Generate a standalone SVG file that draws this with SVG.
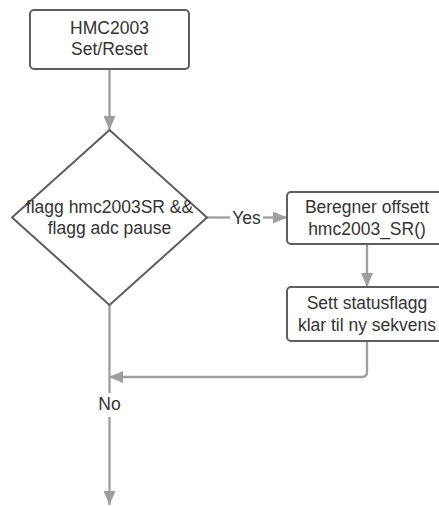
<svg xmlns="http://www.w3.org/2000/svg" width="439" height="506" viewBox="0 0 439 506">
<defs>
<style>
.node{fill:#ffffff;stroke:#5e5e5e;stroke-width:2}
.t{font-family:"Liberation Sans",Arial,sans-serif;font-size:17.5px;fill:#333333;text-anchor:middle}
.c{fill:none;stroke:#9e9e9e;stroke-width:2.3}
.lbl{font-family:"Liberation Sans",Arial,sans-serif;font-size:17.5px;fill:#333333;text-anchor:middle}
</style>
<marker id="ah" markerWidth="14" markerHeight="12" refX="14" refY="6" orient="auto" markerUnits="userSpaceOnUse">
<path d="M0,0 L14,6 L0,12 Z" fill="#9e9e9e"/>
</marker>
</defs>
<rect width="439" height="506" fill="#ffffff"/>
<g id="connectors">
<path class="c" d="M109.5,69 V130" marker-end="url(#ah)"/>
<path class="c" d="M207,217.5 H230"/>
<path class="c" d="M263,217.5 H287" marker-end="url(#ah)"/>
<path class="c" d="M367,244 V287" marker-end="url(#ah)"/>
<path class="c" d="M367,341 V372 Q367,377 362,377 H109" marker-end="url(#ah)"/>
<path class="c" d="M109.5,305 V393"/>
<path class="c" d="M109.5,417 V505" marker-end="url(#ah)"/>
<text class="lbl" x="246.5" y="223.5">Yes</text>
<text class="lbl" x="109.5" y="409.5">No</text>
</g>
<g id="start">
<rect class="node" x="30" y="10" width="159" height="59" rx="4"/>
<text class="t" x="109.5" y="33.5">HMC2003</text>
<text class="t" x="109.5" y="54.5">Set/Reset</text>
</g>
<g id="decision">
<path class="node" stroke-linejoin="round" d="M109.5,130 L207,217.5 L109.5,305 L12,217.5 Z"/>
<text class="t" x="109.5" y="213">flagg hmc2003SR &amp;&amp;</text>
<text class="t" x="109.5" y="233.5">flagg adc pause</text>
</g>
<g id="offset">
<rect class="node" x="287" y="192" width="160" height="52" rx="4"/>
<text class="t" x="367" y="213">Beregner offsett</text>
<text class="t" x="367" y="235">hmc2003_SR()</text>
</g>
<g id="status">
<rect class="node" x="287" y="287" width="160" height="54" rx="4"/>
<text class="t" x="367" y="309">Sett statusflagg</text>
<text class="t" x="367" y="330.5">klar til ny sekvens</text>
</g>
</svg>
